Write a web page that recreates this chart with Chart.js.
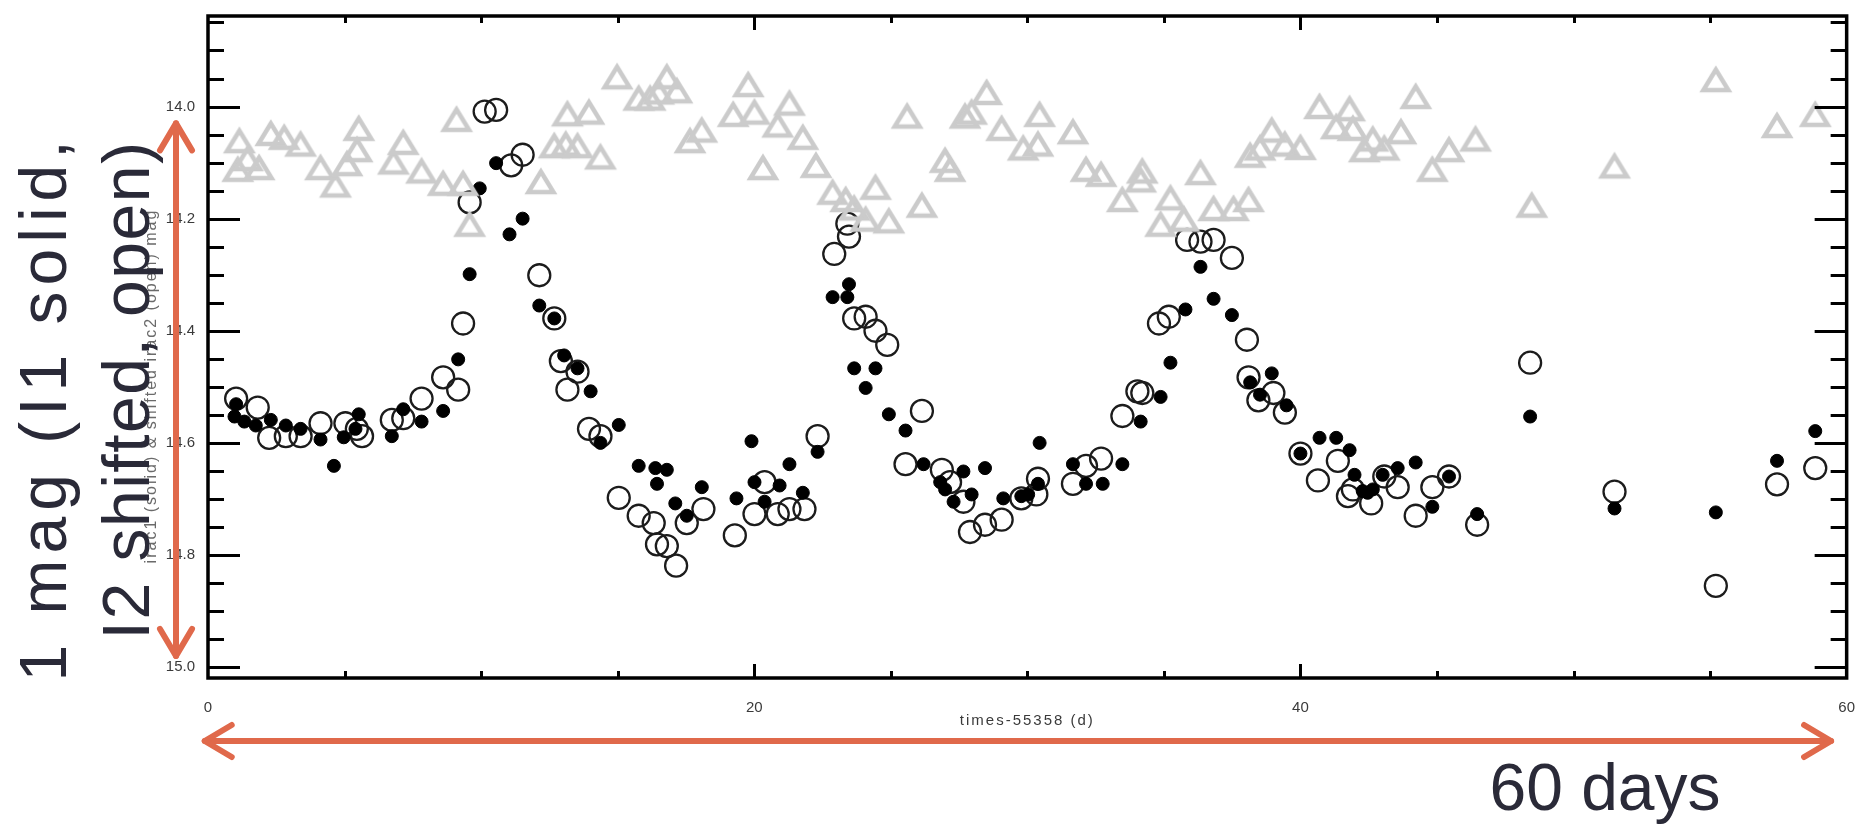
<!DOCTYPE html>
<html>
<head>
<meta charset="utf-8">
<script src="https://cdn.jsdelivr.net/npm/chart.js@4.4.1/dist/chart.umd.min.js"></script>
<style>
  html, body { margin: 0; padding: 0; background: #fff; }
  #wrap { width: 1868px; height: 826px; }
</style>
</head>
<body>
<div id="wrap"><canvas id="lc" width="1868" height="826"></canvas></div>
<script>
// I1 (solid dots)
const i1Days = [0.97, 1.03, 1.33, 1.75, 2.30, 2.85, 3.39, 4.12, 4.61, 4.97, 5.40, 5.52, 6.73, 7.15, 7.82, 8.61, 9.16, 9.58, 9.95,
  10.55, 11.04, 11.52, 12.13, 12.68, 13.04, 13.53, 14.01, 14.37, 15.04, 15.77, 16.38, 16.44, 16.80, 17.11, 17.53, 18.08, 19.35, 19.90,
  20.01, 20.38, 20.93, 21.29, 21.78, 22.32, 22.87, 23.41, 23.47, 23.66, 24.08, 24.44, 24.93, 25.54, 26.20, 26.81, 26.99, 27.30, 27.66, 27.96, 28.45, 29.12, 29.78,
  30.03, 30.39, 30.45, 31.67, 32.15, 32.76, 33.48, 34.15, 34.88, 35.24, 35.79, 36.34, 36.82, 37.49, 38.16, 38.52, 38.95, 39.49, 40.00,
  40.70, 41.31, 41.80, 41.98, 42.28, 42.46, 42.65, 43.01, 43.56, 44.22, 44.83, 45.44, 46.47, 48.41,
  51.50, 55.21, 57.45, 58.85];
const i1Mag = [14.553, 14.531, 14.562, 14.569, 14.559, 14.569, 14.575, 14.594, 14.641, 14.590, 14.575, 14.549, 14.588, 14.540, 14.562, 14.543, 14.451, 14.299, 14.146,
  14.101, 14.228, 14.200, 14.355, 14.378, 14.444, 14.467, 14.508, 14.600, 14.568, 14.641, 14.645, 14.673, 14.648, 14.708, 14.730, 14.679, 14.699, 14.597,
  14.670, 14.705, 14.676, 14.638, 14.689, 14.616, 14.340, 14.340, 14.317, 14.467, 14.502, 14.467, 14.549, 14.578, 14.638, 14.670, 14.683, 14.705, 14.651, 14.692, 14.645, 14.699, 14.695,
  14.692, 14.673, 14.600, 14.638, 14.673, 14.673, 14.638, 14.562, 14.518, 14.457, 14.362, 14.286, 14.343, 14.372, 14.492, 14.514, 14.476, 14.533, 14.619,
  14.591, 14.591, 14.613, 14.657, 14.686, 14.689, 14.683, 14.657, 14.645, 14.635, 14.714, 14.660, 14.727, 14.553,
  14.717, 14.724, 14.632, 14.579];

// I2 shifted (open circles)
const i2Days = [1.03, 1.82, 2.24, 2.85, 3.39, 4.12, 5.03, 5.45, 5.64, 6.73, 7.15, 7.82, 8.61, 9.16, 9.34, 9.58,
  10.13, 10.55, 11.10, 11.52, 12.13, 12.68, 12.92, 13.16, 13.53, 13.95, 14.37, 15.04, 15.77, 16.32, 16.44, 16.80, 17.14, 17.53, 18.14, 19.29,
  20.01, 20.38, 20.86, 21.29, 21.84, 22.32, 22.93, 23.41, 23.47, 23.66, 24.08, 24.44, 24.87, 25.54, 26.14, 26.87, 27.17, 27.66, 27.90, 28.45, 29.06, 29.78,
  30.33, 30.39, 31.67, 32.15, 32.70, 33.48, 34.03, 34.21, 34.82, 35.18, 35.85, 36.34, 36.82, 37.49, 38.04, 38.10, 38.46, 39.01, 39.43, 40.00,
  40.64, 41.37, 41.74, 41.92, 42.59, 43.07, 43.56, 44.22, 44.83, 45.44, 46.47, 48.41,
  51.50, 55.21, 57.45, 58.85];
const i2Mag = [14.521, 14.537, 14.591, 14.588, 14.588, 14.565, 14.565, 14.575, 14.588, 14.559, 14.556, 14.521, 14.483, 14.505, 14.387, 14.171,
  14.009, 14.006, 14.105, 14.086, 14.301, 14.378, 14.454, 14.505, 14.473, 14.575, 14.588, 14.698, 14.730, 14.743, 14.781, 14.784, 14.819, 14.743, 14.718, 14.765,
  14.727, 14.670, 14.727, 14.718, 14.718, 14.588, 14.263, 14.209, 14.232, 14.378, 14.375, 14.400, 14.425, 14.638, 14.543, 14.648, 14.670, 14.705, 14.759, 14.746, 14.737, 14.699,
  14.692, 14.664, 14.673, 14.641, 14.628, 14.552, 14.508, 14.511, 14.387, 14.375, 14.238, 14.241, 14.238, 14.270, 14.416, 14.483, 14.524, 14.511, 14.546, 14.619,
  14.667, 14.632, 14.695, 14.683, 14.708, 14.660, 14.679, 14.730, 14.679, 14.660, 14.746, 14.457,
  14.687, 14.855, 14.674, 14.645];

// grey triangles
const compDays = [1.15, 1.09, 1.45, 1.87, 2.30, 2.79, 3.39, 4.12, 4.67, 5.09, 5.46, 5.52, 6.79, 7.15, 7.82, 8.61, 9.10, 9.34, 9.58,
  12.19, 12.68, 13.10, 13.16, 13.53, 13.95, 14.37, 14.98, 15.77, 16.19, 16.50, 16.80, 17.17, 17.65, 18.08,
  19.23, 19.78, 20.01, 20.32, 20.86, 21.29, 21.78, 22.26, 22.87, 23.35, 23.66, 24.08, 24.44, 24.93, 25.60, 26.14, 26.99, 27.17, 27.72, 27.96, 28.51, 29.06, 29.85,
  30.39, 30.45, 31.67, 32.15, 32.70, 33.48, 34.15, 34.21, 34.88, 35.24, 35.73, 36.34, 36.82, 37.55, 38.10, 38.16, 38.52, 38.95, 39.43, 40.00,
  40.70, 41.31, 41.80, 41.92, 42.34, 42.65, 43.07, 43.68, 44.22, 44.83, 45.44, 46.41, 48.47,
  51.50, 55.21, 57.45, 58.85];
const compMag = [14.060, 14.111, 14.092, 14.108, 14.047, 14.054, 14.066, 14.108, 14.139, 14.101, 14.076, 14.038, 14.098, 14.063, 14.114, 14.136, 14.022, 14.136, 14.209,
  14.133, 14.069, 14.066, 14.012, 14.069, 14.009, 14.089, 13.946, 13.984, 13.984, 13.973, 13.946, 13.971, 14.060, 14.041,
  14.013, 13.960, 14.009, 14.108, 14.032, 13.993, 14.054, 14.104, 14.152, 14.165, 14.180, 14.200, 14.143, 14.203, 14.016, 14.175, 14.095, 14.111, 14.016, 14.009, 13.974, 14.038, 14.073,
  14.066, 14.013, 14.044, 14.111, 14.120, 14.165, 14.130, 14.114, 14.209, 14.162, 14.200, 14.117, 14.181, 14.181, 14.165, 14.086, 14.073, 14.041, 14.066, 14.072,
  13.999, 14.035, 14.003, 14.038, 14.076, 14.057, 14.073, 14.044, 13.981, 14.111, 14.076, 14.057, 14.175,
  14.105, 13.951, 14.033, 14.013];

const xTicks = [0, 20, 40, 60];
const yTicks = [14.0, 14.2, 14.4, 14.6, 14.8, 15.0];

const toPts = (xs, ys) => xs.map((d, i) => ({x: d, y: ys[i]}));

// open triangle marker, box centred on the point
function makeTriangle() {
  const c = document.createElement('canvas');
  c.width = 38; c.height = 34;
  const g = c.getContext('2d');
  g.strokeStyle = '#cbcbcb';
  g.lineWidth = 4.5;
  g.lineJoin = 'miter';
  g.beginPath();
  g.moveTo(19, 7.5);
  g.lineTo(6.5, 28);
  g.lineTo(31.5, 28);
  g.closePath();
  g.stroke();
  return c;
}

const ORANGE = '#e0694b';

function arrowHead(ctx, x, y, dx, dy) {
  // dx,dy = direction the tip points to
  const L = 27, W = 16;
  ctx.beginPath();
  ctx.moveTo(x - dx * L - dy * W, y - dy * L + dx * W);
  ctx.lineTo(x, y);
  ctx.lineTo(x - dx * L + dy * W, y - dy * L - dx * W);
  ctx.stroke();
}

function vText(ctx, txt, x, y, spacing) {
  ctx.save();
  ctx.translate(x, y);
  ctx.rotate(-Math.PI / 2);
  if ('letterSpacing' in ctx) ctx.letterSpacing = spacing + 'px';
  ctx.fillText(txt, 0, 0);
  ctx.restore();
}

const framePlugin = {
  id: 'frame',
  afterDraw(chart) {
    const ctx = chart.ctx;
    const a = chart.chartArea;
    const xs = chart.scales.x, ys = chart.scales.y;
    ctx.save();
    ctx.strokeStyle = '#000';
    // ticks
    ctx.lineWidth = 3;
    ctx.beginPath();
    for (let v = 13.85; v <= 15.001; v += 0.05) {
      const py = Math.round(ys.getPixelForValue(v)) + 0.5;
      const major = yTicks.some(t => Math.abs(t - v) < 1e-6);
      const len = major ? 32 : 16;
      ctx.moveTo(a.left, py); ctx.lineTo(a.left + len, py);
      ctx.moveTo(a.right, py); ctx.lineTo(a.right - len, py);
    }
    for (let v = 5; v < 60; v += 5) {
      const px = Math.round(xs.getPixelForValue(v)) + 0.5;
      const major = xTicks.includes(v);
      const len = major ? 14 : 7;
      ctx.moveTo(px, a.bottom); ctx.lineTo(px, a.bottom - len);
      ctx.moveTo(px, a.top); ctx.lineTo(px, a.top + len);
    }
    ctx.stroke();
    ctx.lineWidth = 3.5;
    ctx.strokeRect(a.left, a.top, a.right - a.left, a.bottom - a.top);

    // axis titles of the original plot
    ctx.fillStyle = '#3a3a3a';
    ctx.font = '15px "Liberation Sans", Arial, sans-serif';
    ctx.textAlign = 'center';
    ctx.textBaseline = 'middle';
    if ('letterSpacing' in ctx) ctx.letterSpacing = '2px';
    ctx.fillText('times-55358 (d)', (a.left + a.right) / 2, 721);
    ctx.fillStyle = '#6a6a6a';
    ctx.font = '16px "Liberation Sans", Arial, sans-serif';
    vText(ctx, 'irac1 (solid) & shifted irac2 (open) mag', 152, 386, 2);
    if ('letterSpacing' in ctx) ctx.letterSpacing = '0px';

    // annotation arrows
    ctx.strokeStyle = ORANGE;
    ctx.lineWidth = 6;
    ctx.lineCap = 'round';
    ctx.lineJoin = 'round';
    const ax = a.left - 32;
    const yTop = ys.getPixelForValue(14.03), yBot = ys.getPixelForValue(14.98);
    ctx.beginPath(); ctx.moveTo(ax, yTop); ctx.lineTo(ax, yBot); ctx.stroke();
    arrowHead(ctx, ax, yTop, 0, -1);
    arrowHead(ctx, ax, yBot, 0, 1);
    const ay = a.bottom + 63;
    const xL = xs.getPixelForValue(-0.12), xR = xs.getPixelForValue(59.43);
    ctx.beginPath(); ctx.moveTo(xL, ay); ctx.lineTo(xR, ay); ctx.stroke();
    arrowHead(ctx, xL, ay, -1, 0);
    arrowHead(ctx, xR, ay, 1, 0);

    // annotation text
    ctx.fillStyle = '#2a2a38';
    ctx.font = '66px "Liberation Sans", Arial, sans-serif';
    ctx.textBaseline = 'alphabetic';
    ctx.textAlign = 'center';
    ctx.fillText('60 days', 1605, 810);
    vText(ctx, '1 mag (I1 solid,', 66, 408, 6);
    vText(ctx, 'I2 shifted, open)', 149, 390, 1.5);
    ctx.restore();
  }
};

new Chart(document.getElementById('lc').getContext('2d'), {
  type: 'scatter',
  data: {
    datasets: [
      {
        label: 'comp',
        data: toPts(compDays, compMag),
        pointStyle: makeTriangle(),
        pointRadius: 15
      },
      {
        label: 'I1',
        data: toPts(i1Days, i1Mag),
        pointStyle: 'circle',
        pointRadius: 6.5,
        borderWidth: 1,
        borderColor: '#000',
        backgroundColor: '#000'
      },
      {
        label: 'I2 shifted',
        data: toPts(i2Days, i2Mag),
        pointStyle: 'circle',
        pointRadius: 11,
        borderWidth: 2.3,
        borderColor: '#1c1c1c',
        backgroundColor: 'rgba(0,0,0,0)'
      }
    ]
  },
  plugins: [framePlugin],
  options: {
    responsive: false,
    devicePixelRatio: 1,
    animation: false,
    layout: { padding: { left: 0, right: 12, top: 14, bottom: 0 } },
    plugins: { legend: { display: false }, tooltip: { enabled: false } },
    scales: {
      x: {
        type: 'linear',
        min: 0, max: 60,
        grid: { display: false },
        border: { display: false },
        afterBuildTicks: s => { s.ticks = xTicks.map(v => ({value: v})); },
        afterFit: s => { s.height = 148; },
        ticks: {
          padding: 13,
          color: '#3a3a3a',
          font: { family: '"Liberation Sans", Arial, sans-serif', size: 15 },
          maxRotation: 0,
          callback: v => String(v)
        }
      },
      y: {
        type: 'linear',
        reverse: true,
        min: 13.8385, max: 15.0194,
        grid: { display: false },
        border: { display: false },
        afterBuildTicks: s => { s.ticks = yTicks.map(v => ({value: v})); },
        afterFit: s => { s.width = 208; },
        ticks: {
          padding: 5,
          color: '#3a3a3a',
          font: { family: '"Liberation Sans", Arial, sans-serif', size: 15 },
          callback: v => v.toFixed(1)
        }
      }
    }
  }
});
</script>
</body>
</html>
